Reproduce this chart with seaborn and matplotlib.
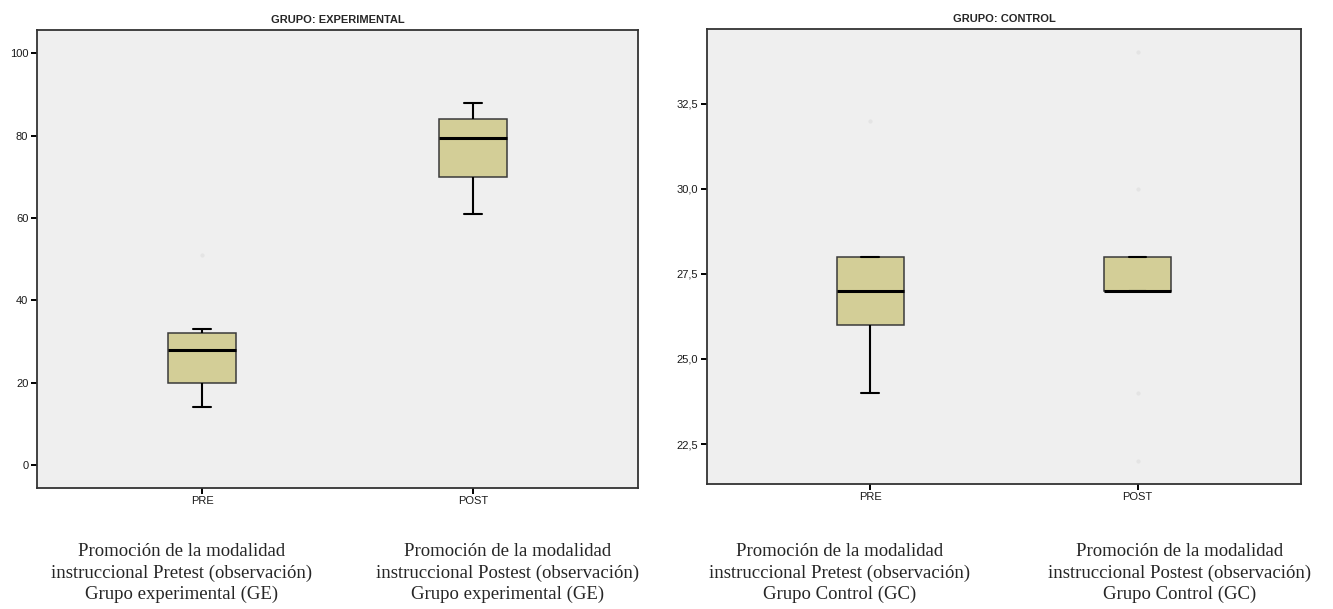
import matplotlib
matplotlib.use("Agg")
import matplotlib.pyplot as plt
import seaborn as sns
import pandas as pd

# Momentos de medición
momentos = ["PRE", "POST"]

# Puntajes del grupo experimental
exp_pre = [14, 18, 20, 20, 27, 29, 32, 32, 33, 51]
exp_post = [61, 66, 70, 70, 79, 80, 84, 84, 86, 88]

# Puntajes del grupo control
ctl_pre = [24, 25, 26, 26, 27, 27, 28, 28, 28, 32]
ctl_post = [22, 24, 27, 27, 27, 27, 28, 28, 30, 34]

titulos = ["GRUPO: EXPERIMENTAL", "GRUPO: CONTROL"]

exp_ticks = [0, 20, 40, 60, 80, 100]
exp_ticklabels = ["0", "20", "40", "60", "80", "100"]
ctl_ticks = [22.5, 25.0, 27.5, 30.0, 32.5]
ctl_ticklabels = ["22,5", "25,0", "27,5", "30,0", "32,5"]

leyendas = [
    "Promoción de la modalidad\ninstruccional Pretest (observación)\nGrupo experimental (GE)",
    "Promoción de la modalidad\ninstruccional Postest (observación)\nGrupo experimental (GE)",
    "Promoción de la modalidad\ninstruccional Pretest (observación)\nGrupo Control (GC)",
    "Promoción de la modalidad\ninstruccional Postest (observación)\nGrupo Control (GC)",
]


def tabla(pre, post):
    return pd.DataFrame({
        "momento": [momentos[0]] * len(pre) + [momentos[1]] * len(post),
        "puntaje": pre + post,
    })


sns.set_theme(style="white")
plt.rcParams["font.family"] = ["Liberation Sans", "DejaVu Sans"]

fig = plt.figure(figsize=(13.33, 6.09), dpi=100)
ax1 = fig.add_axes([0.0275, 0.1992, 0.4514, 0.7515])
ax2 = fig.add_axes([0.5302, 0.2053, 0.4458, 0.7471])

caja = "#d3ce97"
fondo = "#efefef"

paneles = [
    (ax1, tabla(exp_pre, exp_post), titulos[0], (-5.5, 105.7), exp_ticks, exp_ticklabels),
    (ax2, tabla(ctl_pre, ctl_post), titulos[1], (21.33, 34.69), ctl_ticks, ctl_ticklabels),
]

for ax, df, titulo, ylim, ticks, ticklabels in paneles:
    ax.set_facecolor(fondo)
    sns.boxplot(
        data=df, x="momento", y="puntaje", order=momentos, ax=ax,
        color=caja, saturation=1, width=0.25,
        boxprops={"edgecolor": "#3a3a3a", "linewidth": 1.1},
        whiskerprops={"color": "black", "linewidth": 1.5},
        capprops={"color": "black", "linewidth": 1.5},
        medianprops={"color": "black", "linewidth": 2.2},
        flierprops={"marker": "o", "markersize": 2, "markerfacecolor": "#e4e4e4",
                    "markeredgecolor": "#e4e4e4"},
        capwidths=0.065,
    )
    ax.set_xlim(-0.611, 1.611)
    ax.set_ylim(*ylim)
    ax.set_yticks(ticks)
    ax.set_yticklabels(ticklabels)
    ax.set_xlabel("")
    ax.set_ylabel("")
    ax.set_title(titulo, fontsize=8, fontweight="bold", pad=5)
    for lado in ["top", "right", "left", "bottom"]:
        ax.spines[lado].set_visible(True)
        ax.spines[lado].set_color("#333333")
        ax.spines[lado].set_linewidth(1.3)
    ax.tick_params(axis="both", which="major", direction="out", length=4.5,
                   width=1.4, color="black", labelsize=8, labelcolor="#1a1a1a",
                   pad=1.5, left=True, bottom=True)
    ax.grid(False)

# Leyendas bajo cada caja
centros = [182, 508, 840, 1180]
for cx, texto in zip(centros, leyendas):
    fig.text(cx / 1333, 1 - 573 / 609, texto, ha="center", va="center",
             fontsize=13.5, linespacing=1.3,
             family=["Liberation Serif", "DejaVu Serif"])

fig.savefig("out.png", dpi=100)
